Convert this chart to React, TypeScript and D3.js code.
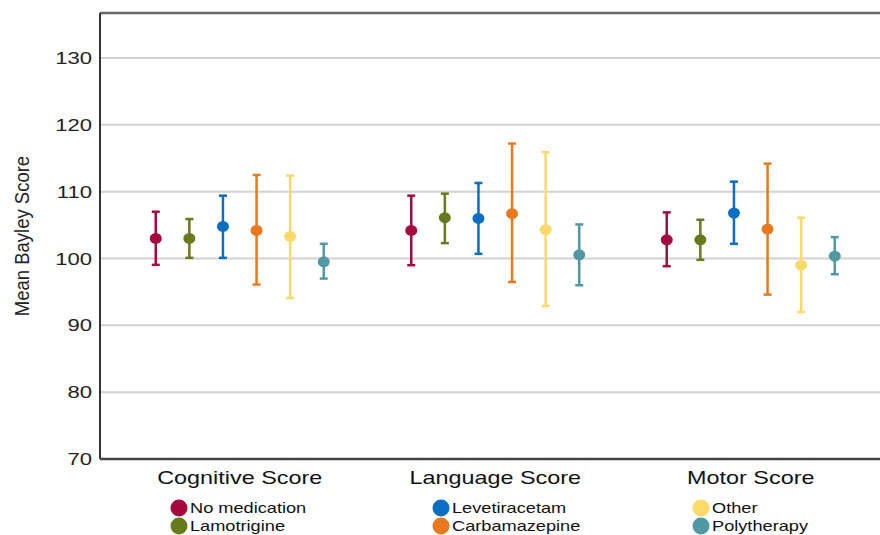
import React from "react";
import * as d3 from "d3";

// categories / series
const categories = ["Cognitive Score", "Language Score", "Motor Score"];
const groups = ["No medication", "Lamotrigine", "Levetiracetam", "Carbamazepine", "Other", "Polytherapy"];
const colors = ["#a6093d", "#687a1e", "#0a6fc2", "#e8791e", "#fdd96b", "#4f98a4"];

// mean values per group (rows) by category (cols)
const means = [
  [103.0, 104.2, 102.8],
  [103.0, 106.1, 102.8],
  [104.8, 106.0, 106.8],
  [104.2, 106.7, 104.4],
  [103.3, 104.3, 99.0],
  [99.5, 100.55, 100.35],
];
const upper = [
  [107.0, 109.4, 106.9],
  [105.9, 109.7, 105.8],
  [109.4, 111.3, 111.5],
  [112.5, 117.2, 114.2],
  [112.4, 115.9, 106.1],
  [102.2, 105.1, 103.2],
];
const lower = [
  [99.05, 99.0, 98.85],
  [100.1, 102.3, 99.8],
  [100.1, 100.7, 102.2],
  [96.1, 96.5, 94.6],
  [94.1, 92.9, 92.0],
  [97.0, 96.0, 97.65],
];
const yTicks = [70, 80, 90, 100, 110, 120, 130];

const W = 880;
const H = 535;
const SX = 1.3; // horizontal stretch of text in the source image

export default function App() {
  const left = 100;
  const bottom = 459;
  const top = 13;

  const y = d3.scaleLinear().domain([70, 130]).range([bottom, 58]);
  const x = d3.scaleBand<string>().domain(categories).range([112, 878.5]).padding(0);
  const xi = d3.scalePoint<string>().domain(groups).range([-84, 84]);

  const font = "'Liberation Sans', Arial, sans-serif";

  return (
    <svg width={W} height={H} style={{ position: "absolute", left: 0, top: 0 }} fontFamily={font}>
      <rect width={W} height={H} fill="#fff" />
      {/* gridlines */}
      {yTicks.filter((t) => t > 70).map((t) => (
        <line key={t} x1={left} x2={W} y1={y(t)} y2={y(t)} stroke="#d2d2d2" strokeWidth={2} />
      ))}
      {/* frame */}
      <line x1={left} x2={W} y1={top} y2={top} stroke="#666" strokeWidth={2.5} />
      <line x1={left} x2={left} y1={top} y2={bottom} stroke="#333" strokeWidth={2} />
      <line x1={left} x2={W} y1={bottom} y2={bottom} stroke="#444" strokeWidth={2.5} />

      {/* y ticks */}
      {yTicks.map((t) => (
        <text key={t} transform={`translate(92,${y(t) + 6}) scale(${SX},1)`} textAnchor="end" fontSize={17} fill="#222">
          {t}
        </text>
      ))}
      <text transform={`translate(29,236) scale(1.12,1) rotate(-90)`} textAnchor="middle" fontSize={18.5} fill="#222">
        Mean Bayley Score
      </text>

      {/* category labels */}
      {categories.map((c) => (
        <text key={c} transform={`translate(${x(c)! + x.bandwidth() / 2},${bottom + 25}) scale(${SX},1)`} textAnchor="middle" fontSize={18} fill="#111">
          {c}
        </text>
      ))}

      {/* error bars */}
      {groups.map((g, gi) =>
        categories.map((c, ci) => {
          const cx = x(c)! + x.bandwidth() / 2 + xi(g)!;
          const col = colors[gi];
          return (
            <g key={g + c}>
              <line x1={cx} x2={cx} y1={y(upper[gi][ci])} y2={y(lower[gi][ci])} stroke={col} strokeWidth={2.5} />
              <line x1={cx - 4} x2={cx + 4} y1={y(upper[gi][ci])} y2={y(upper[gi][ci])} stroke={col} strokeWidth={2.5} />
              <line x1={cx - 4} x2={cx + 4} y1={y(lower[gi][ci])} y2={y(lower[gi][ci])} stroke={col} strokeWidth={2.5} />
              <ellipse cx={cx} cy={y(means[gi][ci])} rx={6} ry={5.5} fill={col} />
            </g>
          );
        })
      )}

      {/* legend */}
      {groups.map((g, gi) => {
        const colX = [179, 441, 701][Math.floor(gi / 2)];
        const rowY = [508, 526][gi % 2];
        return (
          <g key={g}>
            <ellipse cx={colX} cy={rowY} rx={8.5} ry={8.5} fill={colors[gi]} />
            <text transform={`translate(${colX + 11},${rowY + 5}) scale(${SX},1)`} fontSize={14} fill="#111">
              {g}
            </text>
          </g>
        );
      })}
    </svg>
  );
}
